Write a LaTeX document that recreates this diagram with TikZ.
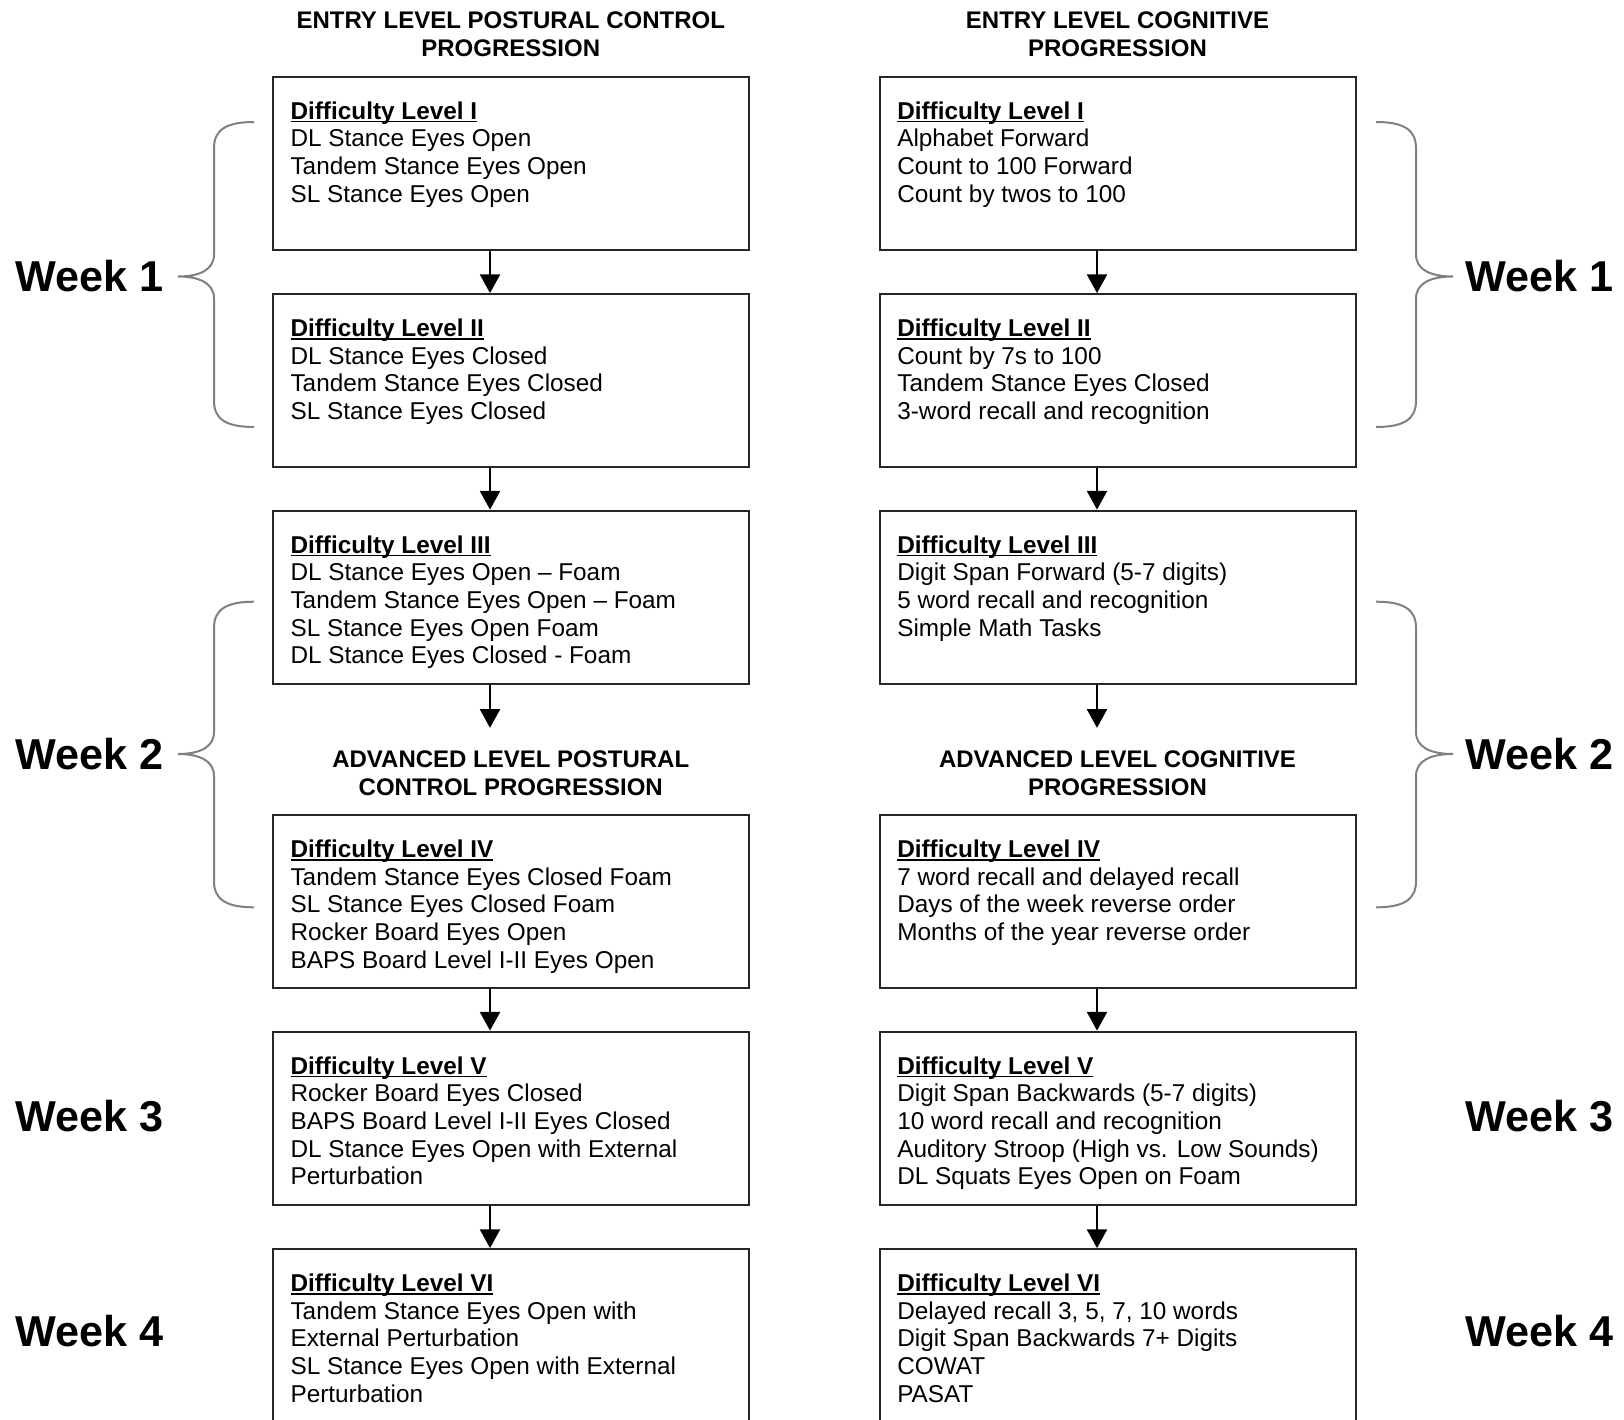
\documentclass[tikz,border=0pt]{standalone}
\usepackage{fontspec}
\setmainfont{Liberation Sans}
\usetikzlibrary{arrows.meta}
\newcommand\dlh[1]{\setbox0\hbox{\bfseries #1}\rlap{\rule[-2.4pt]{\wd0}{1.2pt}}\box0}
\newcommand\leftbrak[3]{%
  \draw[brk] (254,#1) .. controls (226,#1) and (214,#1+8) .. (214,#1+26) -- (214,#2-22)
    .. controls (214,#2-7) and (200,#2) .. (178,#2)
    .. controls (200,#2) and (214,#2+7) .. (214,#2+22) -- (214,#3-26)
    .. controls (214,#3-8) and (226,#3) .. (254,#3);}
\newcommand\rightbrak[3]{%
  \draw[brk] (1376,#1) .. controls (1404,#1) and (1416,#1+8) .. (1416,#1+26) -- (1416,#2-22)
    .. controls (1416,#2-7) and (1430,#2) .. (1453,#2)
    .. controls (1430,#2) and (1416,#2+7) .. (1416,#2+22) -- (1416,#3-26)
    .. controls (1416,#3-8) and (1404,#3) .. (1376,#3);}
\begin{document}
\begin{tikzpicture}[x=0.75pt,y=-0.75pt,
  box/.style={draw=black!85, line width=1.5pt, minimum width=357pt, minimum height=129.75pt, inner sep=0pt},
  txt/.style={anchor=north west, align=left, inner sep=0pt, font=\fontsize{18.25}{20.75}\selectfont},
  ttl/.style={align=center, inner sep=0pt, font=\bfseries\fontsize{18}{21}\selectfont},
  wk/.style={inner sep=0pt, font=\bfseries\fontsize{32.4}{36}\selectfont},
  arr/.style={-{Triangle[length=14pt,width=15pt]}, line width=1.5pt},
  brk/.style={draw=black!50, line width=1.5pt}]
\useasboundingbox (0,0) rectangle (1624,1420);
\fill[white] (0,0) rectangle (1624,1420);
\clip (0,0) rectangle (1624,1420);

% titles
\node[ttl] (TL1) at (510.75,34.7) {ENTRY LEVEL POSTURAL CONTROL\\PROGRESSION};
\node[ttl] (TR1) at (1117.5,34.7) {ENTRY LEVEL COGNITIVE\\PROGRESSION};
\node[ttl] (TL2) at (510.75,773) {ADVANCED LEVEL POSTURAL\\CONTROL PROGRESSION};
\node[ttl] (TR2) at (1117.5,773) {ADVANCED LEVEL COGNITIVE\\PROGRESSION};

% boxes
\node[box] (L1) at (510.75,163.1) {};
\node[box] (L2) at (510.75,380.6) {};
\node[box] (L3) at (510.75,597.1) {};
\node[box] (L4) at (510.75,901.6) {};
\node[box] (L5) at (510.75,1118.1) {};
\node[box] (L6) at (510.75,1335.6) {};
\node[box] (R1) at (1117.5,163.1) {};
\node[box] (R2) at (1117.5,380.6) {};
\node[box] (R3) at (1117.5,597.1) {};
\node[box] (R4) at (1117.5,901.6) {};
\node[box] (R5) at (1117.5,1118.1) {};
\node[box] (R6) at (1117.5,1335.6) {};

% texts
\tikzset{tpos/.style={shift={(13.9pt,-19.2pt)}}}
\node[txt] (L1t) at ([tpos]L1.north west) {\dlh{Difficulty Level I}\\DL Stance Eyes Open\\Tandem Stance Eyes Open\\SL Stance Eyes Open};
\node[txt] (L2t) at ([tpos]L2.north west) {\dlh{Difficulty Level II}\\DL Stance Eyes Closed\\Tandem Stance Eyes Closed\\SL Stance Eyes Closed};
\node[txt] (L3t) at ([tpos]L3.north west) {\dlh{Difficulty Level III}\\DL Stance Eyes Open – Foam\\Tandem Stance Eyes Open – Foam\\SL Stance Eyes Open Foam\\DL Stance Eyes Closed - Foam};
\node[txt] (L4t) at ([tpos]L4.north west) {\dlh{Difficulty Level IV}\\Tandem Stance Eyes Closed Foam\\SL Stance Eyes Closed Foam\\Rocker Board Eyes Open\\BAPS Board Level I-II Eyes Open};
\node[txt] (L5t) at ([tpos]L5.north west) {\dlh{Difficulty Level V}\\Rocker Board Eyes Closed\\BAPS Board Level I-II Eyes Closed\\DL Stance Eyes Open with External\\Perturbation};
\node[txt] (L6t) at ([tpos]L6.north west) {\dlh{Difficulty Level VI}\\Tandem Stance Eyes Open with\\External Perturbation\\SL Stance Eyes Open with External\\Perturbation};
\node[txt] (R1t) at ([tpos]R1.north west) {\dlh{Difficulty Level I}\\Alphabet Forward\\Count to 100 Forward\\Count by twos to 100};
\node[txt] (R2t) at ([tpos]R2.north west) {\dlh{Difficulty Level II}\\Count by 7s to 100\\Tandem Stance Eyes Closed\\3-word recall and recognition};
\node[txt] (R3t) at ([tpos]R3.north west) {\dlh{Difficulty Level III}\\Digit Span Forward (5-7 digits)\\5 word recall and recognition\\Simple Math Tasks};
\node[txt] (R4t) at ([tpos]R4.north west) {\dlh{Difficulty Level IV}\\7 word recall and delayed recall\\Days of the week reverse order\\Months of the year reverse order};
\node[txt] (R5t) at ([tpos]R5.north west) {\dlh{Difficulty Level V}\\Digit Span Backwards (5-7 digits)\\10 word recall and recognition\\Auditory Stroop (High vs. Low Sounds)\\DL Squats Eyes Open on Foam};
\node[txt] (R6t) at ([tpos]R6.north west) {\dlh{Difficulty Level VI}\\Delayed recall 3, 5, 7, 10 words\\Digit Span Backwards 7+ Digits\\COWAT\\PASAT};

% arrows
\coordinate (axL) at (490,0);
\coordinate (axR) at (1097,0);
\draw[arr] (L1.south -| axL) -- (L2.north -| axL);
\draw[arr] (L2.south -| axL) -- (L3.north -| axL);
\draw[arr, shorten >=16.8pt] (L3.south -| axL) -- (TL2.north -| axL);
\draw[arr] (L4.south -| axL) -- (L5.north -| axL);
\draw[arr] (L5.south -| axL) -- (L6.north -| axL);
\draw[arr] (R1.south -| axR) -- (R2.north -| axR);
\draw[arr] (R2.south -| axR) -- (R3.north -| axR);
\draw[arr, shorten >=16.8pt] (R3.south -| axR) -- (TR2.north -| axR);
\draw[arr] (R4.south -| axR) -- (R5.north -| axR);
\draw[arr] (R5.south -| axR) -- (R6.north -| axR);

% week labels
\node[wk, anchor=west] (WL1) at (15,276.5) {Week 1};
\node[wk, anchor=west] (WL2) at (15,754) {Week 2};
\node[wk, anchor=west] (WL3) at (15,1116.5) {Week 3};
\node[wk, anchor=west] (WL4) at (15,1331) {Week 4};
\node[wk, anchor=west] (WR1) at (1465,276.5) {Week 1};
\node[wk, anchor=west] (WR2) at (1465,754) {Week 2};
\node[wk, anchor=west] (WR3) at (1465,1116.5) {Week 3};
\node[wk, anchor=west] (WR4) at (1465,1331) {Week 4};

% braces
\leftbrak{122}{276.5}{427}
\leftbrak{601.7}{754}{907.3}
\rightbrak{122}{276.5}{427}
\rightbrak{601.7}{754}{907.3}
\end{tikzpicture}
\end{document}
